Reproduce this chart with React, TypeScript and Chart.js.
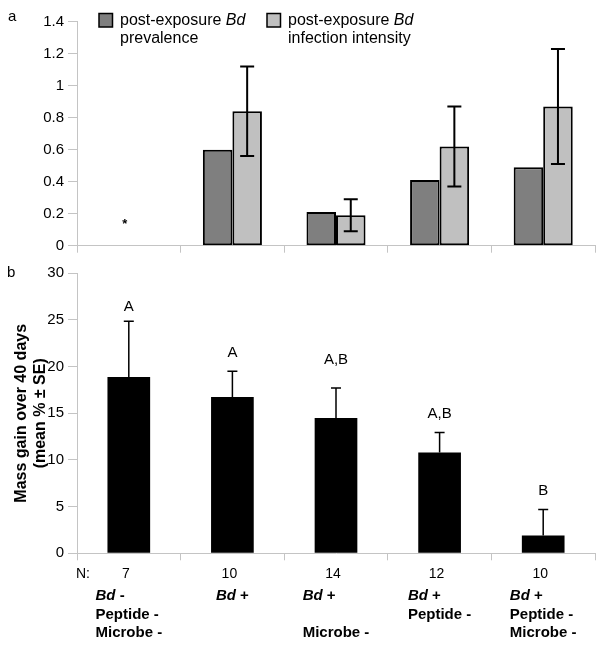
import React, { useEffect, useRef } from "react";
import { Chart, registerables } from "chart.js";

Chart.register(...registerables);

// ---------- data ----------
const categories = ["Bd- Peptide- Microbe-", "Bd+", "Bd+ Microbe-", "Bd+ Peptide-", "Bd+ Peptide- Microbe-"];
const prevalence: (number | null)[] = [null, 0.6, 0.21, 0.41, 0.49];
const intensity: (number | null)[] = [null, 0.84, 0.19, 0.62, 0.87];
const intensityErr: (number | null)[] = [null, 0.28, 0.1, 0.25, 0.36];
const asteriskLevel = 0.16;

const massGain = [18.9, 16.75, 14.5, 10.8, 1.9];
const massErr = [5.95, 2.75, 3.2, 2.15, 2.8];
const groupLetters = ["A", "A", "A,B", "A,B", "B"];
const letterLevels = [26, 21, 20.3, 14.5, 6.2];
const sampleSizes = [7, 10, 14, 12, 10];
const conditionLines = [
  ["Bd -", "Peptide -", "Microbe -"],
  ["Bd +"],
  ["Bd +", "", "Microbe -"],
  ["Bd +", "Peptide -"],
  ["Bd +", "Peptide -", "Microbe -"],
];
const legendLabels = [
  ["post-exposure Bd", "prevalence"],
  ["post-exposure Bd", "infection intensity"],
];
const yTitle = ["Mass gain over 40 days", "(mean % \u00b1 SE)"];

// ---------- style ----------
const FONT = '"Liberation Sans", Arial, Helvetica, sans-serif';
const DARK = "#7f7f7f";
const LIGHT = "#c0c0c0";
const AXIS = "#c4c4c4";

Chart.defaults.font.family = FONT;
Chart.defaults.color = "#000";

function drawRich(ctx: CanvasRenderingContext2D, text: string, x: number, y: number, size: number, bold: boolean, measureOnly = false): number {
  const w = bold ? "bold " : "";
  const parts = text.split(/(Bd)/).filter((p) => p.length > 0);
  let cx = x;
  for (const p of parts) {
    ctx.font = (p === "Bd" ? "italic " : "") + w + size + "px " + FONT;
    if (!measureOnly) ctx.fillText(p, cx, y);
    cx += ctx.measureText(p).width;
  }
  return cx - x;
}

function drawErrorBars(chart: any, dsIndex: number, values: (number | null)[], errors: (number | null)[], both: boolean, capHalf: number, lw: number) {
  const meta = chart.getDatasetMeta(dsIndex);
  const y = chart.scales.y;
  const ctx = chart.ctx as CanvasRenderingContext2D;
  ctx.save();
  ctx.strokeStyle = "#000";
  ctx.lineWidth = lw;
  meta.data.forEach((el: any, i: number) => {
    const v = values[i];
    const e = errors[i];
    if (v == null || e == null) return;
    const x = el.x;
    const yTop = y.getPixelForValue(v + e);
    const yBot = both ? y.getPixelForValue(v - e) : y.getPixelForValue(v);
    ctx.beginPath();
    ctx.moveTo(x, yTop);
    ctx.lineTo(x, yBot);
    ctx.moveTo(x - capHalf, yTop);
    ctx.lineTo(x + capHalf, yTop);
    if (both) {
      ctx.moveTo(x - capHalf, yBot);
      ctx.lineTo(x + capHalf, yBot);
    }
    ctx.stroke();
  });
  ctx.restore();
}

function yAxis(min: number, max: number, step: number) {
  return {
    min,
    max,
    ticks: {
      stepSize: step,
      color: "#000",
      font: { size: 15, family: FONT },
      padding: 4,
      callback: (v: any) => String(Number(Number(v).toFixed(1))),
    },
    grid: { drawOnChartArea: false, drawTicks: true, tickLength: 9, color: AXIS },
    border: { display: true, color: AXIS, width: 1 },
    afterFit: (s: any) => {
      s.width = 77;
    },
  };
}

const xAxis = {
  type: "category" as const,
  offset: true,
  ticks: { display: false },
  grid: { drawOnChartArea: false, drawTicks: true, tickLength: 7, color: AXIS, offset: true },
  border: { display: true, color: AXIS, width: 1 },
  afterFit: (s: any) => {
    s.height = 10;
  },
};

export default function App() {
  const topRef = useRef<HTMLCanvasElement>(null);
  const botRef = useRef<HTMLCanvasElement>(null);

  useEffect(() => {
    const topPlugin = {
      id: "topExtras",
      afterDatasetsDraw(chart: any) {
        drawErrorBars(chart, 1, intensity, intensityErr, true, 7, 2);
      },
      afterDraw(chart: any) {
        const ctx = chart.ctx as CanvasRenderingContext2D;
        const xs = chart.scales.x;
        const ys = chart.scales.y;
        ctx.save();
        ctx.fillStyle = "#000";
        ctx.textBaseline = "alphabetic";
        ctx.textAlign = "left";
        // panel letter
        ctx.font = "15px " + FONT;
        ctx.fillText("a", 8, 21);
        // asterisk over the first group
        ctx.font = "bold 13px " + FONT;
        ctx.textAlign = "center";
        ctx.fillText("*", xs.getPixelForValue(0) - 4, ys.getPixelForValue(asteriskLevel) + 8);
        ctx.textAlign = "left";
        // legend
        const legendX = [99, 267];
        const fills = [DARK, LIGHT];
        legendLabels.forEach((lines, i) => {
          const lx = legendX[i];
          ctx.fillStyle = fills[i];
          ctx.fillRect(lx, 13.5, 13.5, 13.5);
          ctx.strokeStyle = "#000";
          ctx.lineWidth = 1.5;
          ctx.strokeRect(lx, 13.5, 13.5, 13.5);
          ctx.fillStyle = "#000";
          lines.forEach((t, j) => drawRich(ctx, t, lx + 21, 25 + j * 18, 16, false));
        });
        ctx.restore();
      },
    };

    const top = new Chart(topRef.current!, {
      type: "bar",
      data: {
        labels: categories,
        datasets: [
          {
            label: "post-exposure Bd prevalence",
            data: prevalence,
            backgroundColor: DARK,
            borderColor: "#000",
            borderWidth: 2,
            borderSkipped: false,
            barPercentage: 1,
            categoryPercentage: 0.57,
          },
          {
            label: "post-exposure Bd infection intensity",
            data: intensity,
            backgroundColor: LIGHT,
            borderColor: "#000",
            borderWidth: 2,
            borderSkipped: false,
            barPercentage: 1,
            categoryPercentage: 0.57,
          },
        ],
      },
      options: {
        animation: false,
        responsive: false,
        devicePixelRatio: 1,
        events: [],
        layout: { padding: { top: 21.7, bottom: 390.3, left: 0, right: 5 } },
        plugins: { legend: { display: false }, tooltip: { enabled: false } },
        scales: { x: xAxis as any, y: yAxis(0, 1.4, 0.2) as any },
      },
      plugins: [topPlugin],
    });

    const botPlugin = {
      id: "botExtras",
      afterDatasetsDraw(chart: any) {
        drawErrorBars(chart, 0, massGain, massErr, false, 5, 1.5);
      },
      afterDraw(chart: any) {
        const ctx = chart.ctx as CanvasRenderingContext2D;
        const xs = chart.scales.x;
        const ys = chart.scales.y;
        const area = chart.chartArea;
        ctx.save();
        ctx.fillStyle = "#000";
        ctx.textBaseline = "alphabetic";
        // panel letter
        ctx.textAlign = "left";
        ctx.font = "15px " + FONT;
        ctx.fillText("b", 7, 277);
        // group letters
        ctx.textAlign = "center";
        ctx.font = "15px " + FONT;
        groupLetters.forEach((t, i) => {
          ctx.fillText(t, xs.getPixelForValue(i), ys.getPixelForValue(letterLevels[i]));
        });
        // sample sizes
        ctx.font = "14px " + FONT;
        ctx.textAlign = "left";
        ctx.fillText("N:", 76, area.bottom + 25);
        ctx.textAlign = "center";
        sampleSizes.forEach((n, i) => {
          ctx.fillText(String(n), xs.getPixelForValue(i) - 3, area.bottom + 25);
        });
        // condition labels
        ctx.textAlign = "left";
        const rowY = [area.bottom + 47, area.bottom + 66, area.bottom + 84];
        conditionLines.forEach((lines, i) => {
          const widths = lines.map((t) => drawRich(ctx, t, 0, 0, 15, true, true));
          const maxW = Math.max(...widths);
          const left = xs.getPixelForValue(i) - maxW / 2;
          lines.forEach((t, j) => {
            if (t) drawRich(ctx, t, left, rowY[j], 15, true);
          });
        });
        ctx.restore();
      },
    };

    const bottom = new Chart(botRef.current!, {
      type: "bar",
      data: {
        labels: categories,
        datasets: [
          {
            label: "Mass gain",
            data: massGain,
            backgroundColor: "#000",
            borderWidth: 0,
            barPercentage: 0.412,
            categoryPercentage: 1,
          },
        ],
      },
      options: {
        animation: false,
        responsive: false,
        devicePixelRatio: 1,
        events: [],
        layout: { padding: { top: 273.3, bottom: 82.7, left: 0, right: 5 } },
        plugins: { legend: { display: false }, tooltip: { enabled: false } },
        scales: {
          x: xAxis as any,
          y: {
            ...(yAxis(0, 30, 5) as any),
            title: {
              display: true,
              text: yTitle,
              color: "#000",
              font: { size: 16, weight: "bold", family: FONT, lineHeight: 1.15 },
              padding: { top: 12.8, bottom: 0 },
            },
          },
        },
      },
      plugins: [botPlugin],
    });

    return () => {
      top.destroy();
      bottom.destroy();
    };
  }, []);

  const canvasStyle: React.CSSProperties = { position: "absolute", left: 0, top: 0, width: 600, height: 646 };
  return (
    <div style={{ position: "absolute", left: 0, top: 0, width: 600, height: 646, background: "#fff" }}>
      <canvas ref={botRef} width={600} height={646} style={canvasStyle} />
      <canvas ref={topRef} width={600} height={646} style={canvasStyle} />
    </div>
  );
}
